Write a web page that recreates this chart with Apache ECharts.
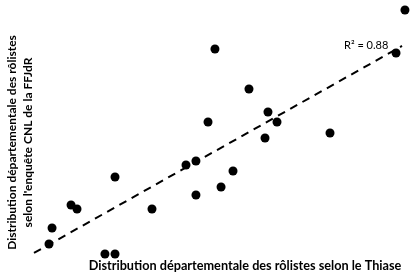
<!DOCTYPE html>
<html><head><meta charset="utf-8">
<script src="https://cdn.jsdelivr.net/npm/echarts@6/dist/echarts.min.js"></script>
<style>html,body{margin:0;padding:0;background:#fff}#c{width:418px;height:280px}</style>
</head><body><div id="c"></div>
<script>
// Thiase distribution (x) vs CNL/FFJdR survey distribution (y), arbitrary % units
const thiase = [3.947,3.853,1.947,2.305,2.505,2.600,2.474,1.874,3.158,1.642,1.747,2.137,2.011,1.747,0.895,1.284,0.432,0.495,0.232,0.200,0.789,0.895];
const cnl    = [4.901,4.051,4.130,3.340,2.885,2.688,2.372,2.688,2.470,1.838,1.917,1.719,1.403,1.245,1.601,0.968,1.047,0.968,0.593,0.277,0.079,0.079];
const trendX = [0.042, 3.916];
const trendY = [0.099, 4.190];
const r2Label = 'R² = 0.88';
const xTitle = 'Distribution départementale des rôlistes selon le Thiase';
const yTitle = "Distribution départementale des rôlistes\nselon l'enquête CNL de la FFJdR";

const font = 'Lato, sans-serif';
const chart = echarts.init(document.getElementById('c'), null, {renderer:'canvas'});
chart.setOption({
  animation:false,
  grid:{left:30,right:8,top:5,bottom:22,containLabel:false,outerBoundsMode:'none'},
  xAxis:{type:'value',min:0,max:4,
    axisLine:{show:false},axisTick:{show:false},axisLabel:{show:false},splitLine:{show:false},
    name:xTitle,nameLocation:'middle',nameGap:1,
    nameTextStyle:{fontFamily:font,fontWeight:'bold',fontSize:12.7,color:'#000',padding:[0,0,0,50]}},
  yAxis:{type:'value',min:0,max:5,
    axisLine:{show:false},axisTick:{show:false},axisLabel:{show:false},splitLine:{show:false},
    name:yTitle,nameLocation:'middle',nameGap:-6,
    nameTextStyle:{fontFamily:font,fontWeight:'bold',fontSize:12,color:'#000',lineHeight:16,align:'center',padding:[0,22,0,0]}},
  series:[
    {type:'line',data:trendX.map((x,i)=>[x,trendY[i]]),symbol:'none',
      lineStyle:{color:'#000',width:2,type:[8,6]},silent:true},
    {type:'scatter',data:thiase.map((x,i)=>[x,cnl[i]]),symbolSize:9,
      itemStyle:{color:'#000',opacity:1}}
  ],
  graphic:[{type:'text',left:344,top:40,style:{text:r2Label,font:'11px '+font,fill:'#000'}}]
});
</script></body></html>
